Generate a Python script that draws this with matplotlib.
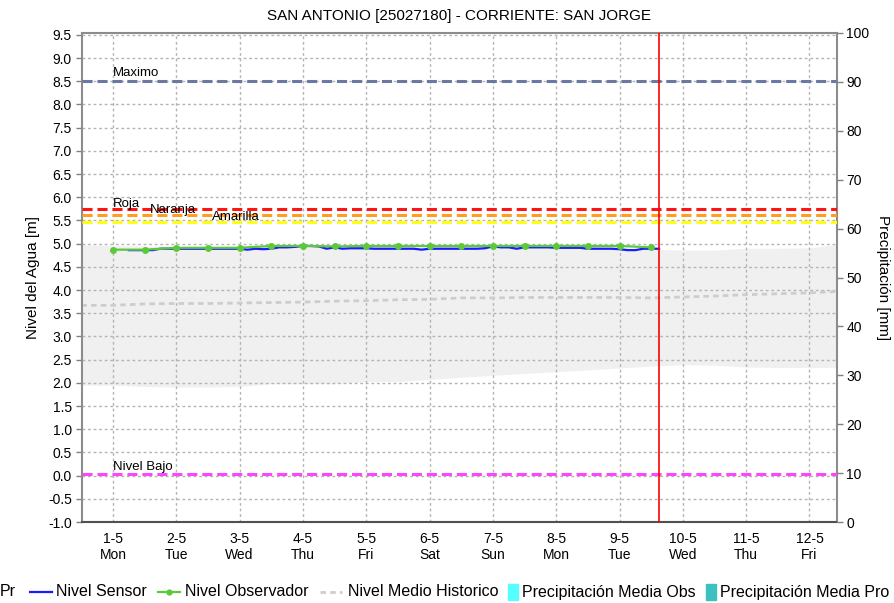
import numpy as np
import matplotlib.pyplot as plt
from matplotlib.lines import Line2D
from matplotlib.patches import Rectangle

plt.rcParams['font.family'] = ['Liberation Sans', 'DejaVu Sans']

titulo = 'SAN ANTONIO [25027180] - CORRIENTE: SAN JORGE'

# dias desde 1-5 (0 = 1-5 00:00)
dia_ticks = list(range(12))
dia_labels = ['1-5\nMon', '2-5\nTue', '3-5\nWed', '4-5\nThu', '5-5\nFri', '6-5\nSat',
              '7-5\nSun', '8-5\nMon', '9-5\nTue', '10-5\nWed', '11-5\nThu', '12-5\nFri']

umbral_nombres = ['Maximo', 'Roja', 'Naranja', 'Amarilla', 'Nivel Bajo']
umbral_valores = [8.5, 5.74, 5.61, 5.46, 0.04]
umbral_colores = ['#6b78a4', '#ff1414', '#ff9c24', '#ffff10', '#ff44ff']

# nivel medio historico y banda min-max (cada 12 h)
hist_dias = np.arange(-0.5, 11.51, 0.5)
hist_medio = [3.67, 3.67, 3.70, 3.71, 3.71, 3.72, 3.73, 3.74, 3.76, 3.77, 3.79, 3.80, 3.83,
              3.83, 3.84, 3.84, 3.84, 3.84, 3.83, 3.85, 3.87, 3.90, 3.92, 3.94, 3.97]
hist_max = [4.97, 4.96, 4.95, 4.94, 4.94, 4.94, 4.94, 4.94, 4.94, 4.94, 4.94, 4.94, 4.94,
            4.94, 4.94, 4.94, 4.93, 4.92, 4.88, 4.86, 4.86, 4.90, 4.90, 4.91, 4.99]
hist_min = [1.95, 1.95, 1.92, 1.91, 1.91, 1.92, 1.98, 1.98, 1.98, 2.03, 2.03, 2.07, 2.12,
            2.16, 2.20, 2.24, 2.28, 2.32, 2.36, 2.39, 2.38, 2.34, 2.33, 2.33, 2.33]

# nivel observador (dos lecturas diarias)
obs_dias = np.arange(0, 8.51, 0.5)
obs_nivel = [4.87, 4.87, 4.91, 4.91, 4.91, 4.95, 4.95, 4.94, 4.95,
             4.95, 4.95, 4.95, 4.95, 4.95, 4.95, 4.95, 4.95, 4.92]

# nivel sensor (cada 3 h)
sensor_dias = np.arange(0.25, 8.626, 0.125)
sensor_nivel = [4.86, 4.86, 4.86, 4.86, 4.89, 4.89, 4.89, 4.89,
                4.89, 4.89, 4.89, 4.89, 4.89, 4.89, 4.89, 4.87,
                4.89, 4.88, 4.89, 4.92, 4.92, 4.93, 4.95, 4.95,
                4.94, 4.89, 4.92, 4.89, 4.90, 4.90, 4.90, 4.89,
                4.89, 4.89, 4.89, 4.89, 4.89, 4.87, 4.89, 4.89,
                4.89, 4.89, 4.89, 4.89, 4.89, 4.90, 4.94, 4.92,
                4.92, 4.89, 4.92, 4.92, 4.92, 4.92, 4.91, 4.91,
                4.91, 4.91, 4.89, 4.89, 4.89, 4.89, 4.88, 4.86,
                4.86, 4.89, 4.89, 4.89]

ahora = 8.63

W, H = 895, 603
fig = plt.figure(figsize=(W / 100, H / 100), dpi=100)
ax = fig.add_axes([81.7 / W, 1 - 522 / H, (836.7 - 81.7) / W, (522 - 33) / H])

ax.fill_between(hist_dias, hist_min, hist_max, color='#f0f0f0', lw=0, zorder=1)
ax.plot(hist_dias, hist_medio, color='#cdcdcd', lw=2, dashes=(2, 1.5), zorder=2)

for nombre, valor, color in zip(umbral_nombres, umbral_valores, umbral_colores):
    ax.axhline(valor, color=color, lw=2.2, dashes=(3.3, 1.6), zorder=3)

label_pos = {'Maximo': (0.0, 0.18), 'Roja': (0.0, 0.12), 'Naranja': (0.58, 0.12),
             'Amarilla': (1.57, 0.12), 'Nivel Bajo': (0.0, 0.15)}
for nombre, valor in zip(umbral_nombres, umbral_valores):
    dx, dy = label_pos[nombre]
    ax.text(dx, valor + dy, nombre, fontsize=9.5, ha='left', va='center', zorder=6)

ax.plot(sensor_dias, sensor_nivel, color='#1a1aff', lw=1.6, zorder=4)
ax.plot(obs_dias, obs_nivel, color='#5cc93a', lw=1.6, marker='o', markersize=4, zorder=5)
ax.axvline(ahora, color='#ff0000', lw=1.2, zorder=6)

ax.set_xlim(-0.494, 11.43)
ax.set_ylim(-1.0, 9.54)
ax.set_yticks(np.arange(-1.0, 9.51, 0.5))
ax.set_yticklabels([f'{v:.1f}' for v in np.arange(-1.0, 9.51, 0.5)])
ax.set_xticks(dia_ticks)
ax.set_xticklabels(dia_labels)
ax.grid(True, color='#b4b4b4', lw=1, linestyle=(0, (2, 2)))
ax.tick_params(axis='x', length=0, pad=7, labelsize=10)
ax.tick_params(axis='y', length=4, width=1, color='#808080', pad=3, labelsize=10)
ax.set_ylabel('Nivel del Agua [m]', fontsize=11)
ax.yaxis.set_label_coords((40 - 81.7) / 755, 0.5)

for side in ['left', 'top', 'right']:
    ax.spines[side].set_color('#8c8c8c')
    ax.spines[side].set_linewidth(1.5)
ax.spines['bottom'].set_color('#505050')
ax.spines['bottom'].set_linewidth(1.5)
ax.spines['bottom'].set_linestyle((0, (0.7, 0.7)))

ax2 = ax.twinx()
ax2.set_ylim(0, 100)
ax2.set_yticks(np.arange(0, 101, 10))
ax2.tick_params(axis='y', length=4, width=1, color='#808080', pad=3, labelsize=10)
ax2.set_ylabel('Precipitación [mm]', fontsize=11, rotation=270, va='center')
ax2.yaxis.set_label_coords((883 - 81.7) / 755, 0.5)
for side in ['left', 'top', 'right', 'bottom']:
    ax2.spines[side].set_visible(False)

fig.text(459 / W, 1 - 16 / H, titulo, fontsize=11, ha='center', va='center')

# leyenda
ly = 1 - 592 / H
tf = fig.transFigure
fs = 11.5
fig.text(0, ly, 'Pr', fontsize=fs, va='center', ha='left')
fig.add_artist(Line2D([30 / W, 52 / W], [ly, ly], color='#1a1aff', lw=1.6, transform=tf))
fig.text(56 / W, ly, 'Nivel Sensor', fontsize=fs, va='center')
fig.add_artist(Line2D([158 / W, 180 / W], [ly, ly], color='#5cc93a', lw=1.6, transform=tf))
fig.add_artist(Line2D([169 / W], [ly], color='#5cc93a', marker='o', markersize=3.5, transform=tf))
fig.text(185 / W, ly, 'Nivel Observador', fontsize=fs, va='center')
fig.add_artist(Line2D([320 / W, 342 / W], [ly, ly], color='#cdcdcd', lw=2, dashes=(2, 1.5), transform=tf))
fig.text(348 / W, ly, 'Nivel Medio Historico', fontsize=fs, va='center')
fig.add_artist(Rectangle((508 / W, 1 - 600 / H), 10 / W, 16 / H, color='#55ffff', transform=tf))
fig.text(522 / W, ly, 'Precipitación Media Obs', fontsize=fs, va='center')
fig.add_artist(Rectangle((706 / W, 1 - 600 / H), 10 / W, 16 / H, color='#3fc0c0', transform=tf))
fig.text(720 / W, ly, 'Precipitación Media Pro', fontsize=fs, va='center')

fig.savefig('out.png', dpi=100)
